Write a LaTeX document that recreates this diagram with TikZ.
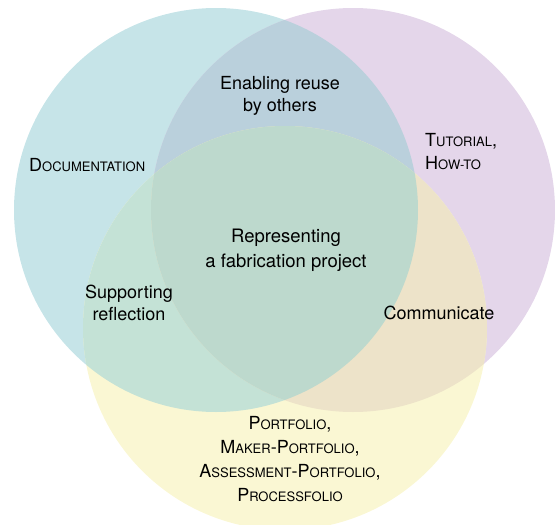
\documentclass[tikz,border=0pt]{standalone}
\usepackage{fontspec}
\setmainfont{TeX Gyre Heros}

% fake small capitals
\newcommand{\smc}[1]{{\fontsize{13}{16}\selectfont #1}}

\definecolor{docfill}{HTML}{C6E4E8}
\definecolor{tutfill}{HTML}{E4D6EA}
\definecolor{portfill}{HTML}{FAF7D3}
\definecolor{doctut}{HTML}{BAD0DC}
\definecolor{docport}{HTML}{C4E2D6}
\definecolor{tutport}{HTML}{EDE3C9}
\definecolor{allthree}{HTML}{BDD9CD}

\begin{document}
\begin{tikzpicture}[x=1pt,y=-1pt,
    lbl/.style={align=center,inner sep=0pt,font=\fontsize{18}{22}\selectfont}]
  \useasboundingbox (0,0) rectangle (555,525);
  \coordinate (doc) at (216,210);
  \coordinate (tut) at (353,210);
  \coordinate (port) at (285,328);
  % the three sets
  \fill[docfill] (doc) circle (202pt);
  \fill[tutfill] (tut) circle (202pt);
  \fill[portfill] (port) circle (202pt);
  \begin{scope}
    \clip (doc) circle (202pt);
    \fill[doctut] (tut) circle (202pt);
    \fill[docport] (port) circle (202pt);
  \end{scope}
  \begin{scope}
    \clip (tut) circle (202pt);
    \fill[tutport] (port) circle (202pt);
  \end{scope}
  \begin{scope}
    \clip (doc) circle (202pt);
    \clip (tut) circle (202pt);
    \fill[allthree] (port) circle (202pt);
  \end{scope}
  % labels
  \node[lbl,anchor=west] (documentation) at (29,165) {D\smc{OCUMENTATION}};
  \node[lbl,anchor=west,align=left,font=\fontsize{18}{23}\selectfont] (tutorial) at (425,152) {T\smc{UTORIAL},\\H\smc{OW-TO}};
  \node[lbl] (reuse) at (280,96) {Enabling reuse\\by others};
  \node[lbl,font=\fontsize{18.5}{25}\selectfont] (project) at (286,250) {Representing\\a fabrication project};
  \node[lbl] (reflection) at (129,303) {Supporting\\reflection};
  \node[lbl] (communicate) at (439,313) {Communicate};
  \node[lbl,font=\fontsize{18}{24}\selectfont] (portfolio) at (290,459)
    {P\smc{ORTFOLIO},\\M\smc{AKER}-P\smc{ORTFOLIO},\\A\smc{SSESSMENT}-P\smc{ORTFOLIO},\\P\smc{ROCESSFOLIO}};
\end{tikzpicture}
\end{document}
